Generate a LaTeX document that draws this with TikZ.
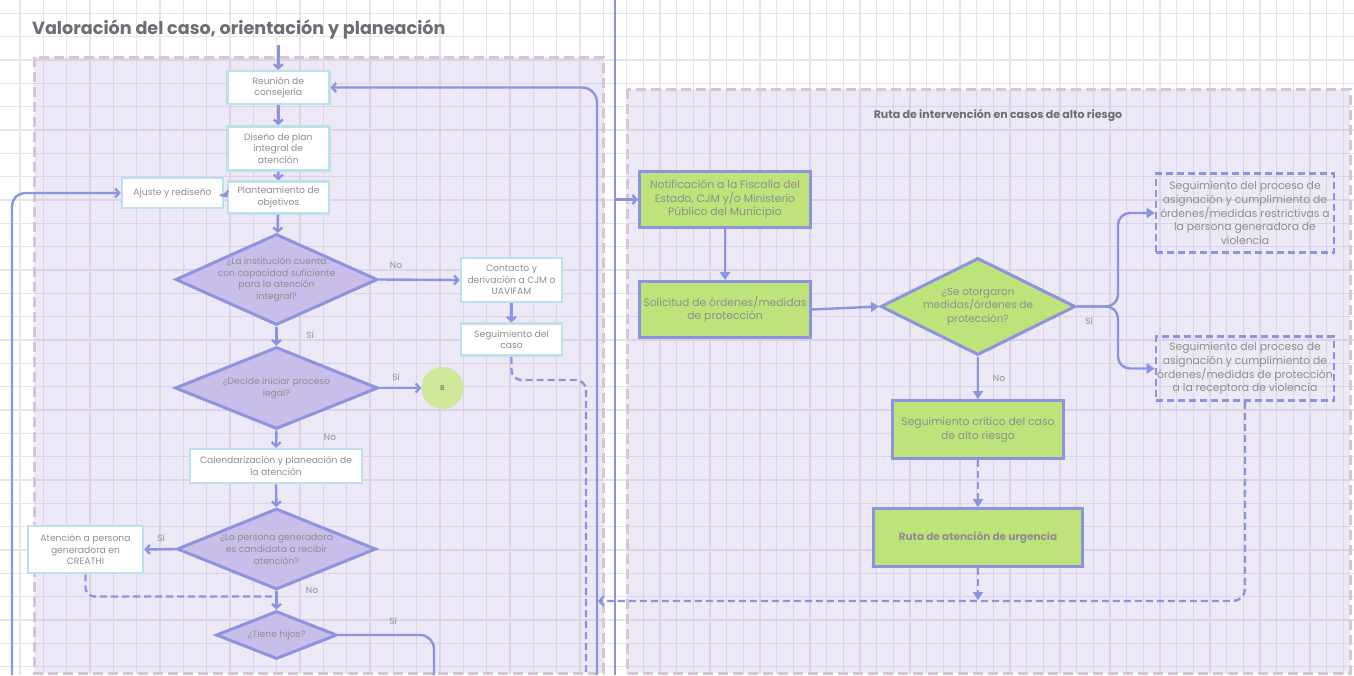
\documentclass[tikz,border=0pt]{standalone}
\usepackage{fontspec}
\setmainfont{Poppins}
\usetikzlibrary{shapes.geometric,arrows.meta,calc}

\definecolor{flowblue}{HTML}{8D94DF}
\definecolor{panelfill}{HTML}{ECE8F6}
\definecolor{panelrim}{HTML}{D7C4DA}
\definecolor{boxrim}{HTML}{BEE0EA}
\definecolor{diafill}{HTML}{C9BEEA}
\definecolor{leaf}{HTML}{BEE37B}
\definecolor{bnode}{HTML}{CFE89B}
\definecolor{ink}{HTML}{8E8E8E}
\definecolor{heading}{HTML}{6B6F75}
\definecolor{gridgray}{HTML}{E6E6E6}
\definecolor{gridlav}{HTML}{DAD3E7}

\newcommand\gridlines[1]{%
  \foreach \k in {0,...,28}{\draw[#1] (0,{13.33+23.333*\k}) -- (1354,{13.33+23.333*\k});}
  \foreach \k in {1,...,26}{\draw[#1] ({-3.33+23.333*\k},0) -- ({-3.33+23.333*\k},675);}
  \foreach \k in {0,...,43}{\draw[#1] ({626.67+16.667*\k},0) -- ({626.67+16.667*\k},675);}
}

\tikzset{
  leftfont/.style={font=\fontsize{9.2}{11.7}\selectfont},
  rightfont/.style={font=\fontsize{10.8}{13.6}\selectfont},
  wbox/.style={draw=boxrim, line width=2.5pt, fill=white, text=ink, align=center, inner sep=1pt, leftfont},
  gbox/.style={draw=flowblue, line width=3pt, fill=leaf, text=ink, align=center, inner sep=1pt, rightfont},
  dbox/.style={draw=flowblue, line width=2.6pt, dash pattern=on 7pt off 4pt, text=ink, align=center, inner sep=1pt, rightfont},
  dia/.style={diamond, draw=flowblue, line width=3pt, fill=diafill, inner sep=0pt},
  gdia/.style={dia, fill=leaf},
  dtext/.style={text=ink, align=center, inner sep=0pt, leftfont},
  lbl/.style={text=ink, inner sep=0pt, font=\fontsize{9}{10}\selectfont},
  link/.style={draw=flowblue, line width=2.4pt},
  arr/.style={link, -{Straight Barb[length=4pt,width=9pt]}},
  arrR/.style={link, -{Triangle[length=8pt,width=10pt]}},
  dlink/.style={link, dash pattern=on 7pt off 4pt},
  darr/.style={dlink, -{Straight Barb[length=4pt,width=9pt]}},
  darrR/.style={dlink, -{Triangle[length=8pt,width=10pt]}},
}

\begin{document}
\begin{tikzpicture}[x=1pt,y=-1pt]
\useasboundingbox (0,0) rectangle (1354,675);

% background paper with grid
\fill[white] (0,0) rectangle (1354,675);
\gridlines{gridgray, line width=1.1pt}

% panels
\fill[panelfill] (34,57) rectangle (603,673);
\fill[panelfill] (627,89) rectangle (1350,673);
\begin{scope}
  \clip (34,57) rectangle (603,673) (627,89) rectangle (1350,673);
  \gridlines{gridlav, line width=1.1pt}
\end{scope}
\draw[panelrim, line width=3pt, dash pattern=on 10pt off 5pt] (34,57) rectangle (603,673);
\draw[panelrim, line width=3pt, dash pattern=on 10pt off 5pt] (627,89) rectangle (1350,673);

% titles
\node[anchor=west, text=heading, inner sep=0pt, font=\fontsize{17.6}{20}\selectfont\bfseries] (title) at (32,29) {Valoración del caso, orientación y planeación};
\node[text=heading, inner sep=0pt, font=\fontsize{11}{13}\selectfont\bfseries] (rtitle) at (998,115) {Ruta de intervención en casos de alto riesgo};

% separating rail
\coordinate (railTop) at (615,0);
\coordinate (railBot) at (615,675);
\draw[flowblue, line width=1.8pt] (railTop) -- (railBot);

% ---------- left flow ----------
\node[wbox, minimum width=102pt, minimum height=33pt] (reunion) at (278.3,87.5) {Reunión de\\consejería};
\node[wbox, minimum width=102pt, minimum height=44pt] (diseno) at (278.3,148.3) {Diseño de plan\\integral de\\atención};
\node[wbox, minimum width=101pt, minimum height=32pt] (plant) at (278.5,197.5) {Planteamiento de\\objetivos};
\node[wbox, minimum width=101pt, minimum height=30pt] (ajuste) at (172.5,193) {Ajuste y rediseño};

\node[dia, minimum width=202pt, minimum height=91pt] (d1) at (276.5,279.5) {};
\node[dtext] (d1t) at (d1) {¿La institución cuenta\\con capacidad suficiente\\para la atención\\integral?};

\node[wbox, minimum width=101pt, minimum height=44pt] (contacto) at (511.5,280) {Contacto y\\derivación a CJM o\\UAVIFAM};
\node[wbox, minimum width=101pt, minimum height=32pt] (seguim) at (511.5,339.5) {Seguimiento del\\caso};

\node[dia, minimum width=203pt, minimum height=82pt] (d2) at (276.5,388) {};
\node[dtext] (d2t) at (d2) {¿Decide iniciar proceso\\legal?};

\node[circle, fill=bnode, minimum size=42pt, inner sep=0pt, text=ink, font=\fontsize{7}{8}\selectfont\bfseries] (bnode) at (442.5,388) {B};

\node[wbox, minimum width=172pt, minimum height=34pt] (cal) at (276,466) {Calendarización y planeación de\\la atención};

\node[dia, minimum width=199pt, minimum height=81pt] (d3) at (276.5,549) {};
\node[dtext] (d3t) at (d3) {¿La persona generadora\\es candidata a recibir\\atención?};

\node[wbox, minimum width=115pt, minimum height=47pt] (atencion) at (85.5,549.5) {Atención a persona\\generadora en\\CREATHI};

\node[dia, minimum width=121pt, minimum height=48pt] (d4) at (276.5,635) {};
\node[dtext] (d4t) at (d4) {¿Tiene hijos?};

% left connectors
\coordinate (entry) at (278.3,45);
\draw[arr] (entry) -- (reunion);
\draw[arr] (reunion) -- (diseno);
\draw[arr] (diseno) -- (plant);
\draw[arr] (ajuste.east) -- (plant.west);
\draw[arr] (plant) -- (d1);
\draw[arr] (d1.east) -- (contacto.west);
\draw[arr] (contacto) -- (seguim);
\draw[arr] (d1.south) -- (d2.north);
\draw[arr] (d2.east) -- (bnode.west);
\draw[arr] (d2.south) -- (cal.north);
\draw[arr] (cal.south) -- (d3.north);
\draw[arr] (d3.west) -- (atencion.east);
\draw[arr] (d3.south) -- (d4.north);
\draw[dlink, rounded corners=9pt] (atencion.south) |- ($(d4.north)+(0,-13)$);

\coordinate (hijosEnd) at (434,675);
\draw[link, rounded corners=14pt] (d4.east) -| (hijosEnd);

\coordinate (segEnd) at (586,675);
\draw[dlink, rounded corners=10pt] (seguim.south) |- (586,380) -- (segEnd);

\coordinate (loopR) at (597,675);
\draw[arr, rounded corners=15pt] (loopR) |- (reunion.east);

\coordinate (loopL) at (12,675);
\draw[arr, rounded corners=13pt] (loopL) |- (ajuste.west);

% left labels
\node[lbl] (l1) at (396,265) {No};
\node[lbl] (l2) at (310,335) {Sí};
\node[lbl] (l3) at (396,377) {Sí};
\node[lbl] (l4) at (330,437) {No};
\node[lbl] (l5) at (161,538) {Sí};
\node[lbl] (l6) at (312,590) {No};
\node[lbl] (l7) at (393,621) {Sí};

% ---------- right flow ----------
\node[gbox, minimum width=171pt, minimum height=56pt] (notif) at (725,199.5) {Notificación a la Fiscalía del\\Estado, CJM y/o Ministerio\\Público del Municipio};
\node[gbox, minimum width=171pt, minimum height=56pt] (solic) at (725,309.5) {Solicitud de órdenes/medidas\\de protección};

\node[gdia, minimum width=195pt, minimum height=97pt] (d5) at (978,306.5) {};
\node[dtext, font=\fontsize{10.4}{13.6}\selectfont] (d5t) at (d5) {¿Se otorgaron\\medidas/órdenes de\\protección?};

\node[gbox, minimum width=171pt, minimum height=58pt] (crit) at (978,429.5) {Seguimiento crítico del caso\\de alto riesgo};
\node[gbox, minimum width=209pt, minimum height=58pt, font=\fontsize{10.5}{13.5}\selectfont\bfseries] (urg) at (978,537.5) {Ruta de atención de urgencia};

\node[dbox, minimum width=178pt, minimum height=79pt] (restr) at (1245,213) {Seguimiento del proceso de\\asignación y cumplimiento de\\órdenes/medidas restrictivas a\\la persona generadora de\\violencia};
\node[dbox, minimum width=178pt, minimum height=64pt] (prot) at (1245,368.5) {Seguimiento del proceso de\\asignación y cumplimiento de\\órdenes/medidas de protección\\a la receptora de violencia};

% right connectors
\draw[arr] (railTop |- notif.west) -- (notif.west);
\draw[arrR] (notif) -- (solic);
\draw[arrR] (solic.east) -- (d5.west);
\coordinate (fork) at (1118,306.5);
\draw[arrR, rounded corners=12pt] (d5.east) -- (fork) |- (restr.west);
\draw[arrR, rounded corners=12pt] (d5.east) -- (fork) |- (prot.west);
\draw[arrR] (d5.south) -- (crit.north);
\draw[darrR] (crit.south) -- (urg.north);
\coordinate (urgEnd) at (978,600);
\draw[darrR] (urg.south) -- (urgEnd);
\coordinate (retEnd) at (598,601);
\draw[darr, rounded corners=12pt] (prot.south) |- (retEnd);

% right labels
\node[lbl] (l8) at (999,378) {No};
\node[lbl] (l9) at (1089,321) {Sí};
\end{tikzpicture}
\end{document}
